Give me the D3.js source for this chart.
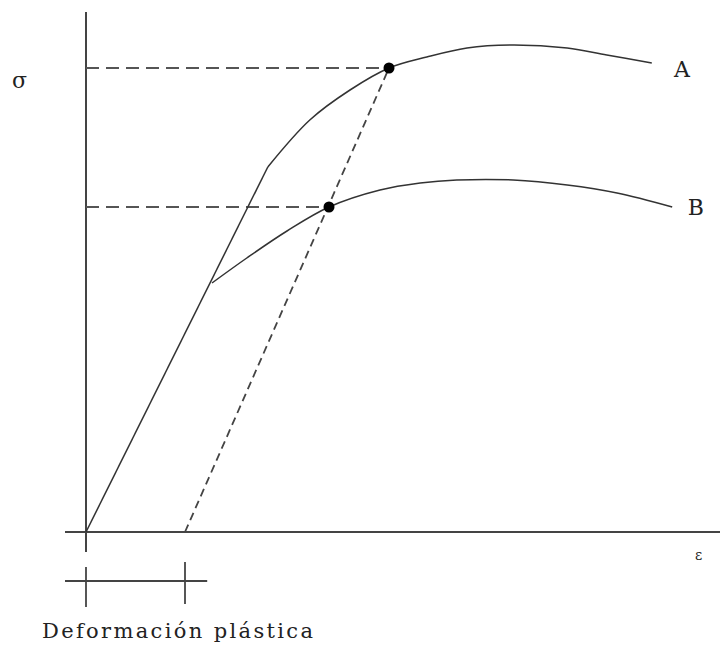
<!DOCTYPE html>
<html>
<head>
<meta charset="utf-8">
<script src="https://cdn.jsdelivr.net/npm/d3@7"></script>
<style>
  body { margin: 0; background: #fff; }
  svg { display: block; }
  text { font-family: "DejaVu Serif", "Liberation Serif", serif; fill: #222; }
</style>
</head>
<body>
<div id="chart"></div>
<script>
// strain / stress values in arbitrary units
const elasticLine = [[0, 0], [30.3, 73]];
const curveA = [[30.3, 73], [37.3, 82.4], [44, 88.4], [50.5, 92.8], [56.8, 95], [63.5, 96.8], [70.7, 97.4], [80.2, 96.8], [86.8, 95.4], [94.3, 93.8]];
const curveB = [[21, 49.8], [26.8, 54.8], [33.5, 60.2], [40.5, 65], [49, 68.4], [55.7, 69.8], [61.8, 70.4], [71.2, 70.4], [80.2, 69.4], [88.5, 67.8], [97.7, 65]];
const yieldPoints = [{ name: "A", x: 50.5, y: 92.8 }, { name: "B", x: 40.5, y: 65 }];
const curveLabels = [{ name: "A", x: 98, y: 92.2 }, { name: "B", x: 100.3, y: 64.6 }];
const plasticStrain = 16.5;

const w = 720, h = 648;

const svg = d3.select('#chart').append('svg')
  .attr('width', w)
  .attr('height', h);

const x = d3.scaleLinear().domain([0, 100]).range([86, 686]);
const y = d3.scaleLinear().domain([0, 100]).range([532, 32]);

//axes (no ticks, plain lines)
svg.append('line')
  .attr('x1', x(0)).attr('x2', x(0))
  .attr('y1', y(104)).attr('y2', y(-4))
  .attr('stroke', '#444').attr('stroke-width', 2);
svg.append('line')
  .attr('x1', x(-3.5)).attr('x2', x(106))
  .attr('y1', y(0)).attr('y2', y(0))
  .attr('stroke', '#444').attr('stroke-width', 2);

//horizontal dashed guides to the yield points
svg.append('g')
  .selectAll('line')
  .data(yieldPoints)
  .enter().append('line')
  .attr('x1', x(0))
  .attr('x2', d => x(d.x))
  .attr('y1', d => y(d.y))
  .attr('y2', d => y(d.y))
  .attr('stroke', '#555')
  .attr('stroke-width', 2)
  .attr('stroke-dasharray', '13,7');

//offset line from the plastic strain
svg.append('line')
  .attr('x1', x(plasticStrain)).attr('y1', y(0))
  .attr('x2', x(yieldPoints[0].x)).attr('y2', y(yieldPoints[0].y))
  .attr('stroke', '#444')
  .attr('stroke-width', 1.8)
  .attr('stroke-dasharray', '8,5');

const straight = d3.line().x(d => x(d[0])).y(d => y(d[1]));
const smooth = d3.line().x(d => x(d[0])).y(d => y(d[1])).curve(d3.curveCatmullRom.alpha(0.5));

[[elasticLine, straight], [curveA, smooth], [curveB, smooth]].forEach(([data, gen]) => {
  svg.append('path')
    .datum(data)
    .attr('d', gen)
    .attr('fill', 'none')
    .attr('stroke', '#333')
    .attr('stroke-width', 1.5);
});

svg.append('g')
  .selectAll('circle')
  .data(yieldPoints)
  .enter().append('circle')
  .attr('cx', d => x(d.x))
  .attr('cy', d => y(d.y))
  .attr('r', 5.5)
  .attr('fill', '#000');

svg.append('g')
  .selectAll('text')
  .data(curveLabels)
  .enter().append('text')
  .attr('x', d => x(d.x))
  .attr('y', d => y(d.y))
  .attr('dominant-baseline', 'middle')
  .attr('font-size', 22)
  .text(d => d.name);

//axis labels
svg.append('text')
  .attr('x', 12).attr('y', 88)
  .attr('font-size', 22)
  .text('σ');
svg.append('text')
  .attr('x', x(101.5)).attr('y', y(-5.6))
  .attr('font-size', 14)
  .text('ε');

//plastic deformation bracket
const bar = svg.append('g').attr('stroke', '#444').attr('stroke-width', 1.8);
bar.append('line')
  .attr('x1', x(-3.5)).attr('x2', x(20.2))
  .attr('y1', y(-9.8)).attr('y2', y(-9.8));
bar.append('line')
  .attr('x1', x(0)).attr('x2', x(0))
  .attr('y1', y(-7)).attr('y2', y(-15));
bar.append('line')
  .attr('x1', x(plasticStrain)).attr('x2', x(plasticStrain))
  .attr('y1', y(-6)).attr('y2', y(-14.4));

svg.append('text')
  .attr('x', 42).attr('y', 638)
  .attr('font-size', 21)
  .attr('textLength', 271)
  .attr('lengthAdjust', 'spacing')
  .text('Deformación plástica');
</script>
</body>
</html>
